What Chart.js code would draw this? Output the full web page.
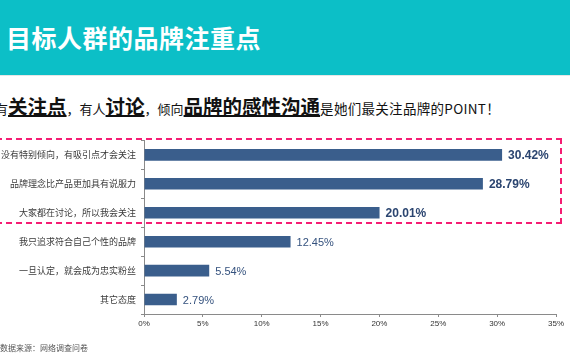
<!DOCTYPE html>
<html>
<head>
<meta charset="utf-8">
<script src="https://cdn.jsdelivr.net/npm/chart.js@4"></script>
<style>
  body { margin: 0; width: 570px; height: 360px; overflow: hidden; background: #fff; font-family: "Noto Sans CJK SC", sans-serif; position: relative; }
  #header { position: absolute; left: 0; top: 0; width: 570px; height: 75px; background: #0cbfc7; border-bottom: 1px solid #e6e6e6; }
  #title { position: absolute; left: 6px; top: 20px; color: #fff; font-size: 25px; font-weight: bold; letter-spacing: 0.5px; line-height: 34px; }
  #subtitle { position: absolute; left: -5px; top: 93px; white-space: nowrap; color: #111; font-size: 13px; line-height: 26px; }
  #subtitle b { font-size: 19.5px; text-decoration: underline; text-decoration-thickness: 1.5px; text-underline-offset: 1px; }
  #subtitle .tail { font-size: 13.5px; letter-spacing: 0.3px; }
  #box { position: absolute; left: -4px; top: 138px; width: 566px; height: 86px; border: 2px dashed #f51d73; box-sizing: border-box; }
  #wrap { position: absolute; left: 0; top: 130px; width: 570px; height: 230px; }
  #source { position: absolute; left: 0; top: 342px; font-size: 8px; color: #555; }
</style>
</head>
<body>
<div id="header"><div id="title">目标人群的品牌注重点</div></div>
<div id="subtitle">有<b>关注点</b>，有人<b>讨论</b>，倾向<b>品牌的感性沟通</b><span class="tail">是她们最关注品牌的POINT！</span></div>
<div id="wrap"><canvas id="chart"></canvas></div>
<div id="box"></div>
<div id="source">数据来源：网络调查问卷</div>
<script>
const categories = [
  '没有特别倾向，有吸引点才会关注',
  '品牌理念比产品更加具有说服力',
  '大家都在讨论，所以我会关注',
  '我只追求符合自己个性的品牌',
  '一旦认定，就会成为忠实粉丝',
  '其它态度'
];
const shares = [30.42, 28.79, 20.01, 12.45, 5.54, 2.79];
const highlighted = [true, true, true, false, false, false];
const xTicks = [0, 5, 10, 15, 20, 25, 30, 35];

const valueLabels = {
  id: 'valueLabels',
  afterDatasetsDraw(chart) {
    const ctx = chart.ctx;
    const meta = chart.getDatasetMeta(0);
    ctx.save();
    ctx.textBaseline = 'middle';
    ctx.textAlign = 'left';
    meta.data.forEach((bar, i) => {
      if (highlighted[i]) {
        ctx.font = 'bold 12px "Liberation Sans", Arial, sans-serif';
        ctx.fillStyle = '#2b4570';
      } else {
        ctx.font = '11px "Liberation Sans", Arial, sans-serif';
        ctx.fillStyle = '#35527e';
      }
      ctx.fillText(shares[i].toFixed(2) + '%', bar.x + 6, bar.y + 1);
    });
    ctx.restore();
  }
};

new Chart(document.getElementById('chart'), {
  type: 'bar',
  data: {
    labels: categories,
    datasets: [{
      data: shares,
      backgroundColor: '#3a5e8c',
      barPercentage: 0.4,
      categoryPercentage: 1
    }]
  },
  options: {
    indexAxis: 'y',
    responsive: true,
    maintainAspectRatio: false,
    animation: false,
    layout: { padding: { top: 10, right: 14, bottom: 26, left: 0 } },
    plugins: { legend: { display: false }, tooltip: { enabled: false } },
    scales: {
      x: {
        min: 0,
        max: 35,
        afterBuildTicks(axis) { axis.ticks = xTicks.map(v => ({ value: v })); },
        afterFit(axis) { axis.height = 20; },
        border: { color: '#8a8a8a', width: 1 },
        grid: { drawOnChartArea: false, drawTicks: true, tickLength: 3, color: '#8a8a8a' },
        ticks: {
          padding: 2,
          color: '#333',
          font: { size: 8, family: '"Liberation Sans", Arial, sans-serif' },
          callback: v => v + '%'
        }
      },
      y: {
        afterFit(axis) { axis.width = 144; },
        border: { color: '#8a8a8a', width: 1 },
        grid: { offset: true, drawOnChartArea: false, drawTicks: true, tickLength: 3, color: '#8a8a8a' },
        ticks: {
          padding: 5,
          color: '#3a3a3a',
          font: { size: 9, family: '"Noto Sans CJK SC", sans-serif' }
        }
      }
    }
  },
  plugins: [valueLabels]
});
</script>
</body>
</html>
